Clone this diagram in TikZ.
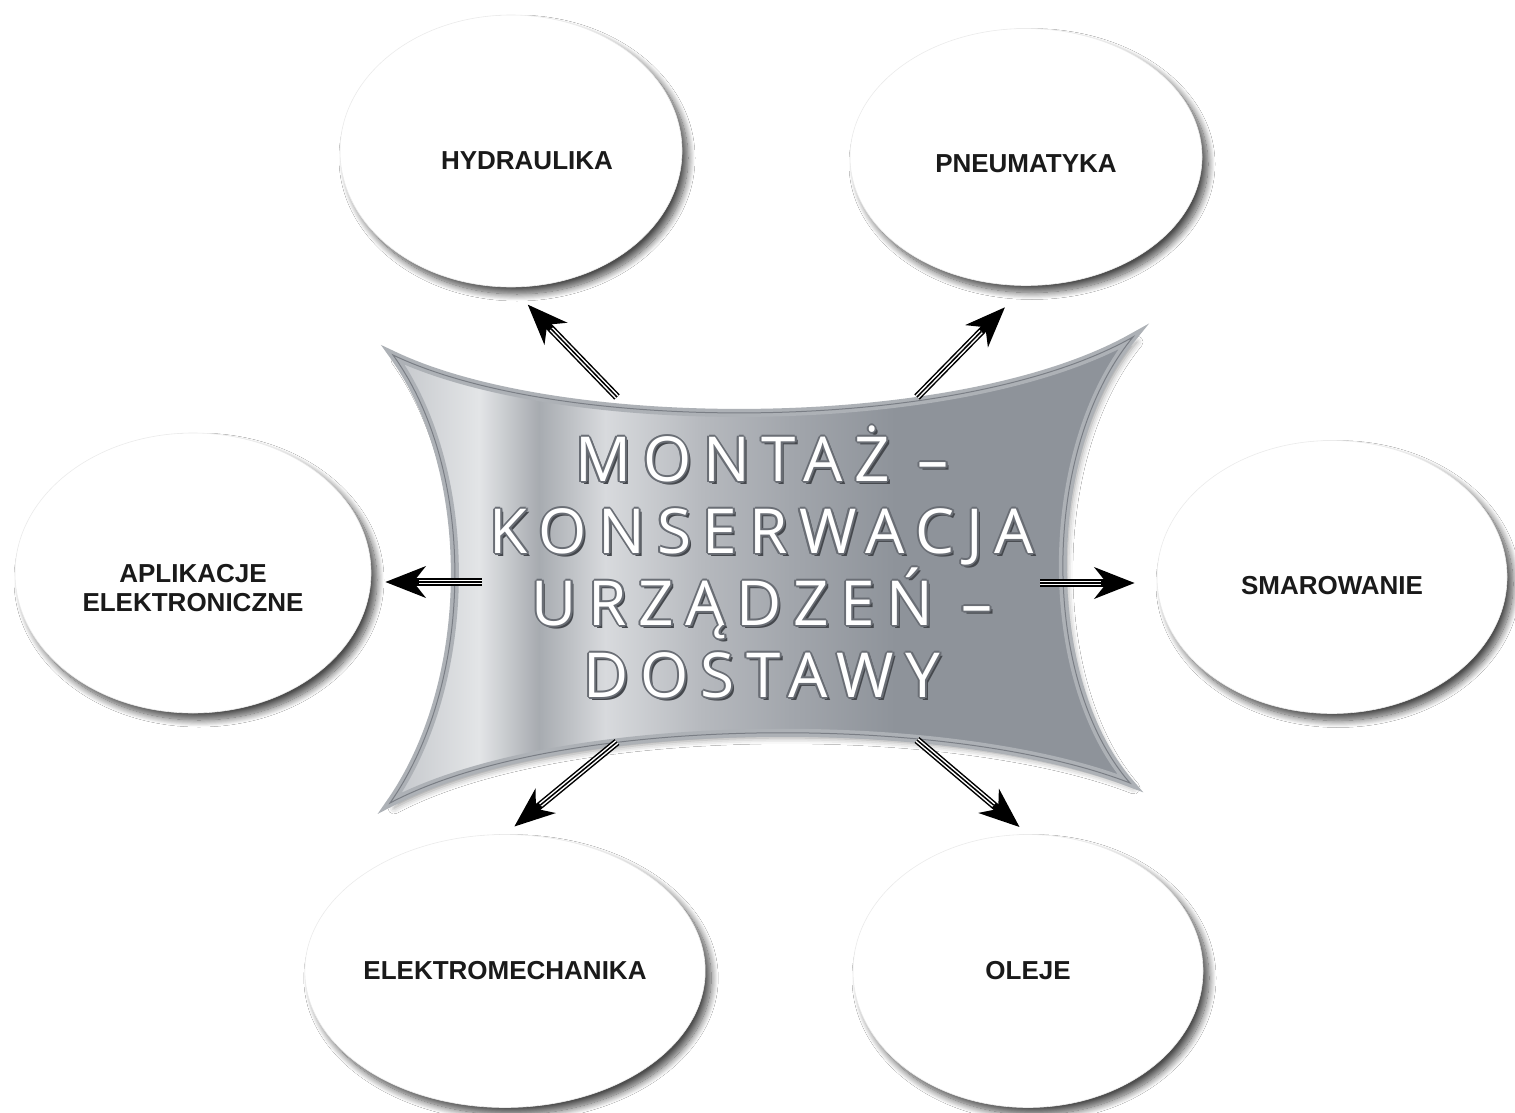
\documentclass[tikz,border=0pt]{standalone}
\usepackage{fontspec}
\setmainfont{Liberation Sans}
\newfontfamily\titlefont{Open Sans}[LetterSpace=19]
\usetikzlibrary{arrows.meta,positioning,shapes.geometric,shadows.blur}
\definecolor{RimGrey}    {HTML}{ADB1B6}
\definecolor{EdgeGrey}   {HTML}{7A7E85}
\definecolor{EmbossGrey} {HTML}{6A6E75}
\definecolor{ShadowGrey} {HTML}{45484D}
\definecolor{LabelInk}   {HTML}{1A1A1A}
\definecolor{SteelA}     {HTML}{C3C6CA}
\definecolor{SteelB}     {HTML}{E3E5E7}
\definecolor{SteelC}     {HTML}{A7ABB0}
\definecolor{SteelD}     {HTML}{D8DADD}
\definecolor{SteelE}     {HTML}{B6B9BE}
\definecolor{SteelF}     {HTML}{A2A6AC}
\definecolor{SteelG}     {HTML}{8E939A}
\pgfdeclarehorizontalshading{metal}{100bp}{%
  color(0bp)=(SteelA); color(25bp)=(SteelA); color(31bp)=(SteelB);
  color(35bp)=(SteelC); color(39.5bp)=(SteelD); color(46bp)=(SteelE);
  color(52bp)=(SteelF); color(59bp)=(SteelG); color(75bp)=(SteelG);
  color(100bp)=(SteelG)}
\newcommand{\titlelines}{MONTAŻ –\\ KONSERWACJA\\ URZĄDZEŃ –\\ DOSTAWY}

\begin{document}
\begin{tikzpicture}[x=1pt,y=-1pt,
  topic/.style={ellipse,fill=white,draw=black!8,line width=0.6pt,
        minimum width=350pt,minimum height=273pt,inner sep=0pt,align=center,
        text=LabelInk,font=\bfseries\fontsize{26}{29}\selectfont,
        blur shadow={shadow xshift=6pt,shadow yshift=-7pt,shadow blur radius=7pt,
                     shadow blur steps=14,shadow opacity=70}},
  shaft/.style={line width=7.5pt,-{Stealth[length=40pt,width=31pt,inset=12pt]}},
  core/.style={white,line width=4.5pt},
  midline/.style={black,line width=1.5pt},
  titletext/.style={align=center,font=\titlefont\fontsize{62}{72}\selectfont}]
  \useasboundingbox (0,0) rectangle (1515,1113);
  \fill[white] (0,0) rectangle (1515,1113);

  % metal plate
  \coordinate (cTL) at (393,355);
  \coordinate (cTR) at (1133,337);
  \coordinate (cBR) at (1130,783);
  \coordinate (cBL) at (390,803);
  \shade[shading=metal,draw=RimGrey,line width=8pt,
         blur shadow={shadow xshift=4pt,shadow yshift=-5pt,shadow blur radius=6pt,shadow opacity=40}]
    (cTL) .. controls (560,435) and (960,435) .. (cTR)
          .. controls (1040,450) and (1040,680) .. (cBR)
          .. controls (950,713) and (560,713) .. (cBL)
          .. controls (476,680) and (476,470) .. cycle;
  \draw[EdgeGrey,line width=1pt]
    (cTL) .. controls (560,435) and (960,435) .. (cTR)
          .. controls (1040,450) and (1040,680) .. (cBR)
          .. controls (950,713) and (560,713) .. (cBL)
          .. controls (476,680) and (476,470) .. cycle;

  % embossed title
  \node[titletext,text=ShadowGrey,xshift=3pt,yshift=-3pt] at (762,562) {\titlelines};
  \foreach \dx/\dy in {2/0,-2/0,0/2,0/-2,1.4/1.4,-1.4/1.4,1.4/-1.4,-1.4/-1.4}
    \node[titletext,text=EmbossGrey,xshift=\dx pt,yshift=\dy pt] at (762,562) {\titlelines};
  \node[titletext,text=white] (title) at (762,562) {\titlelines};

  % topics
  \node[topic,minimum width=342pt,minimum height=272pt,text height=37pt] (hyd) at (511,151) {\hspace*{32pt}HYDRAULIKA};
  \node[topic,minimum width=352pt,minimum height=257pt,text height=31pt] (pne) at (1026,157) {PNEUMATYKA};
  \node[topic,minimum width=356pt,minimum height=280pt,text height=76pt,text depth=0pt] (apl) at (193,573) {APLIKACJE\\ELEKTRONICZNE};
  \node[topic,text height=35pt] (sma) at (1332,577) {SMAROWANIE};
  \node[topic] (ele) at (505,971) {ELEKTROMECHANIKA};
  \node[topic] (ole) at (1028,971) {OLEJE};

  % arrows
  \coordinate (tHyd) at (617,397);
  \coordinate (tPne) at (917,397);
  \coordinate (tApl) at (482,582);
  \coordinate (tSma) at (1040,583);
  \coordinate (tEle) at (617,742);
  \coordinate (tOle) at (917,740);
  \foreach \from/\to/\s/\c in {tHyd/hyd.south/24/58, tPne/pne.south/30/64,
      tApl/tApl -| apl.east/14/48, tSma/tSma -| sma.west/22/56,
      tEle/ele.north/12/46, tOle/ole.north/11/45}{
    \draw[shaft,shorten >=\s pt] (\from) -- (\to);
    \draw[core,shorten >=\c pt] (\from) -- (\to);
    \draw[midline,shorten >=\c pt] (\from) -- (\to);
  }
\end{tikzpicture}
\end{document}
